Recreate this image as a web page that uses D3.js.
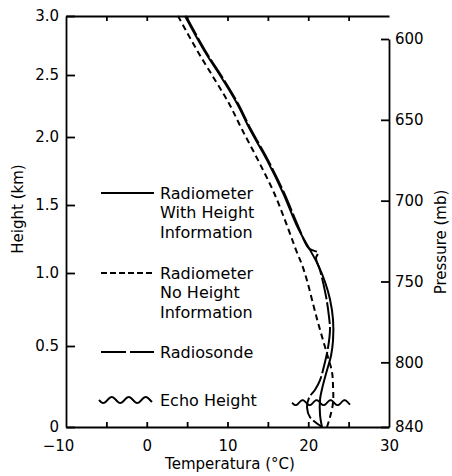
<!DOCTYPE html>
<html>
<head>
<meta charset="utf-8">
<script src="https://cdnjs.cloudflare.com/ajax/libs/d3/7.8.5/d3.min.js"></script>
<style>
	body { margin: 0; background: #fff; }
	text { font-family: "DejaVu Sans", sans-serif; fill: #000; }
</style>
</head>
<body>
<div id="chart"></div>
<script>
// Radiometer with height information (solid)
var withHeightH = [3.0, 2.71, 2.46, 2.27, 2.06, 1.83, 1.59, 1.33, 1.17, 1.06, 0.94, 0.82, 0.68, 0.54, 0.44, 0.35, 0.26, 0.17, 0.074, 0];
var withHeightT = [4.74, 7.09, 9.44, 11.18, 12.79, 14.89, 16.87, 18.73, 20.22, 21.21, 22.07, 22.69, 23.07, 23.07, 22.82, 22.32, 21.83, 21.46, 21.46, 21.7];
// Radiometer without height information (dashed)
var noHeightH = [3.0, 2.71, 2.46, 2.27, 2.06, 1.83, 1.59, 1.33, 1.17, 1.06, 0.95, 0.79, 0.66, 0.54, 0.43, 0.34, 0.25, 0.15, 0.06, 0];
var noHeightT = [3.87, 6.22, 8.45, 10.19, 11.8, 13.78, 15.76, 17.49, 18.48, 19.23, 19.84, 20.59, 21.21, 21.83, 22.45, 22.94, 23.07, 23.07, 22.69, 22.32];
// Radiosonde (long dash)
var sondeH = [3.0, 2.71, 2.46, 2.27, 2.06, 1.83, 1.59, 1.33, 1.18, 1.15, 1.11, 1.02, 0.84, 0.70, 0.61, 0.49, 0.40, 0.29, 0.23, 0.18, 0.12, 0.06, 0];
var sondeT = [4.86, 7.21, 9.57, 11.3, 12.91, 15.02, 17.0, 18.85, 20.09, 21.21, 20.96, 21.46, 22.2, 22.57, 22.69, 22.45, 22.07, 21.46, 20.84, 20.09, 19.85, 20.22, 21.7];
// Echo height (km) and the temperature span of its marker
var echoHeight = 0.15;
var echoSpan = [18.0, 25.2];

// Axis ticks
var tempLabels = [-10, 0, 10, 20, 30];
var tempMinor = [-5, 0, 5, 10, 15, 20, 25];
var heightTicks = [0, 0.5, 1.0, 1.5, 2.0, 2.5, 3.0];
var heightLabels = ["0", "0.5", "1.0", "1.5", "2.0", "2.5", "3.0"];
var pressTicks = [600, 650, 700, 750, 800, 840];
var legendText = [
	["Radiometer", "With Height", "Information"],
	["Radiometer", "No Height", "Information"],
	["Radiosonde"],
	["Echo Height"]
];

// SVG size and plot frame
var width = 452;
var height = 476;
var fLeft = 66, fRight = 389, fTop = 16, fBottom = 427;

var svg = d3.select("#chart").append("svg")
	.attr("width", width)
	.attr("height", height);

// Scales - height ticks sit on a pressure-linear axis, so height is polylinear
var x = d3.scaleLinear().domain([-10, 30]).range([fLeft, fRight]);
var y = d3.scaleLinear().domain(heightTicks).range([427, 346, 273, 205, 137, 75, 16]);
var yP = d3.scaleLinear().domain([840, 600]).range([427, 39]);

function styleAxis(g) {
	g.attr("font-family", null).attr("font-size", null);
	g.selectAll("path, line").attr("stroke", "#000").attr("stroke-width", 1.8);
	g.selectAll("text").style("font-size", "15px");
}

// Left axis (height)
svg.append("g")
	.attr("transform", "translate(" + fLeft + ",0)")
	.call(d3.axisLeft(y).tickValues(heightTicks).tickSizeInner(-9).tickSizeOuter(0).tickPadding(7)
		.tickFormat(function(d, i) { return heightLabels[i]; }))
	.call(styleAxis);

// Right axis (pressure)
svg.append("g")
	.attr("transform", "translate(" + fRight + ",0)")
	.call(d3.axisRight(yP).tickValues(pressTicks).tickSizeInner(-8).tickSizeOuter(0).tickPadding(6))
	.call(styleAxis);

// Bottom axis - short ticks every 5 and labels every 10
svg.append("g")
	.attr("transform", "translate(0," + fBottom + ")")
	.call(d3.axisBottom(x).tickValues(tempMinor).tickSizeInner(-5).tickSizeOuter(0).tickFormat(""))
	.call(styleAxis);
svg.append("g")
	.attr("transform", "translate(0," + fBottom + ")")
	.call(d3.axisBottom(x).tickValues(tempLabels).tickSize(0).tickPadding(13))
	.call(styleAxis)
	.call(function(g) {
		g.select(".domain").remove();
		g.selectAll(".tick text").filter(function(d) { return d === -10; }).attr("dx", -8);
	});

// Top axis
svg.append("g")
	.attr("transform", "translate(0," + fTop + ")")
	.call(d3.axisTop(x).tickValues(tempMinor).tickSizeInner(-5).tickSizeOuter(0).tickFormat(""))
	.call(styleAxis);

// Axis titles
svg.append("text")
	.attr("transform", "translate(23,209) rotate(-90)")
	.attr("text-anchor", "middle")
	.style("font-size", "15px")
	.text("Height (km)");
svg.append("text")
	.attr("transform", "translate(446,242) rotate(-90)")
	.attr("text-anchor", "middle")
	.style("font-size", "15px")
	.text("Pressure (mb)");
svg.append("text")
	.attr("x", 230)
	.attr("y", 469)
	.attr("text-anchor", "middle")
	.style("font-size", "15px")
	.text("Temperatura (°C)");

// Profile lines
var line = d3.line()
	.x(function(d) { return x(d.t); })
	.y(function(d) { return y(d.h); })
	.curve(d3.curveCatmullRom.alpha(0.5));

function pairs(hs, ts) {
	return hs.map(function(h, i) { return { h: h, t: ts[i] }; });
}

var series = [
	{ data: pairs(sondeH, sondeT), dash: "22,3" },
	{ data: pairs(withHeightH, withHeightT), dash: null },
	{ data: pairs(noHeightH, noHeightT), dash: "6,4" }
];

svg.append("g")
	.selectAll("path")
	.data(series)
	.enter().append("path")
	.attr("d", function(d) { return line(d.data); })
	.attr("fill", "none")
	.attr("stroke", "#000")
	.attr("stroke-width", 2)
	.attr("stroke-dasharray", function(d) { return d.dash; });

// Wavy marker for the echo height
function wave(x0, x1, yc, amp, period) {
	return d3.range(x0, x1 + 0.5, 1).map(function(px) {
		return [px, yc + amp * Math.sin((px - x0) / period * 2 * Math.PI)];
	});
}
var waveLine = d3.line();
svg.append("path")
	.attr("d", waveLine(wave(x(echoSpan[0]), x(echoSpan[1]), y(echoHeight), 2.5, 14)))
	.attr("fill", "none")
	.attr("stroke", "#000")
	.attr("stroke-width", 1.8);

// Legend
var legY = [193, 273, 352, 400];
var legX0 = 101, legX1 = 154, legTx = 160;
var leg = svg.append("g");
legendText.forEach(function(lines, i) {
	var ly = legY[i];
	if (i === 3) {
		leg.append("path")
			.attr("d", waveLine(wave(legX0 - 2, legX1 - 2, ly, 3, 17)))
			.attr("fill", "none")
			.attr("stroke", "#000")
			.attr("stroke-width", 2);
	} else {
		leg.append("line")
			.attr("x1", legX0).attr("x2", legX1)
			.attr("y1", ly).attr("y2", ly)
			.attr("stroke", "#000")
			.attr("stroke-width", 2)
			.attr("stroke-dasharray", [null, "6,3", "25,4"][i]);
	}
	lines.forEach(function(t, j) {
		leg.append("text")
			.attr("x", legTx)
			.attr("y", ly + 5.5 + j * 19.5)
			.style("font-size", "16px")
			.text(t);
	});
});
</script>
</body>
</html>
